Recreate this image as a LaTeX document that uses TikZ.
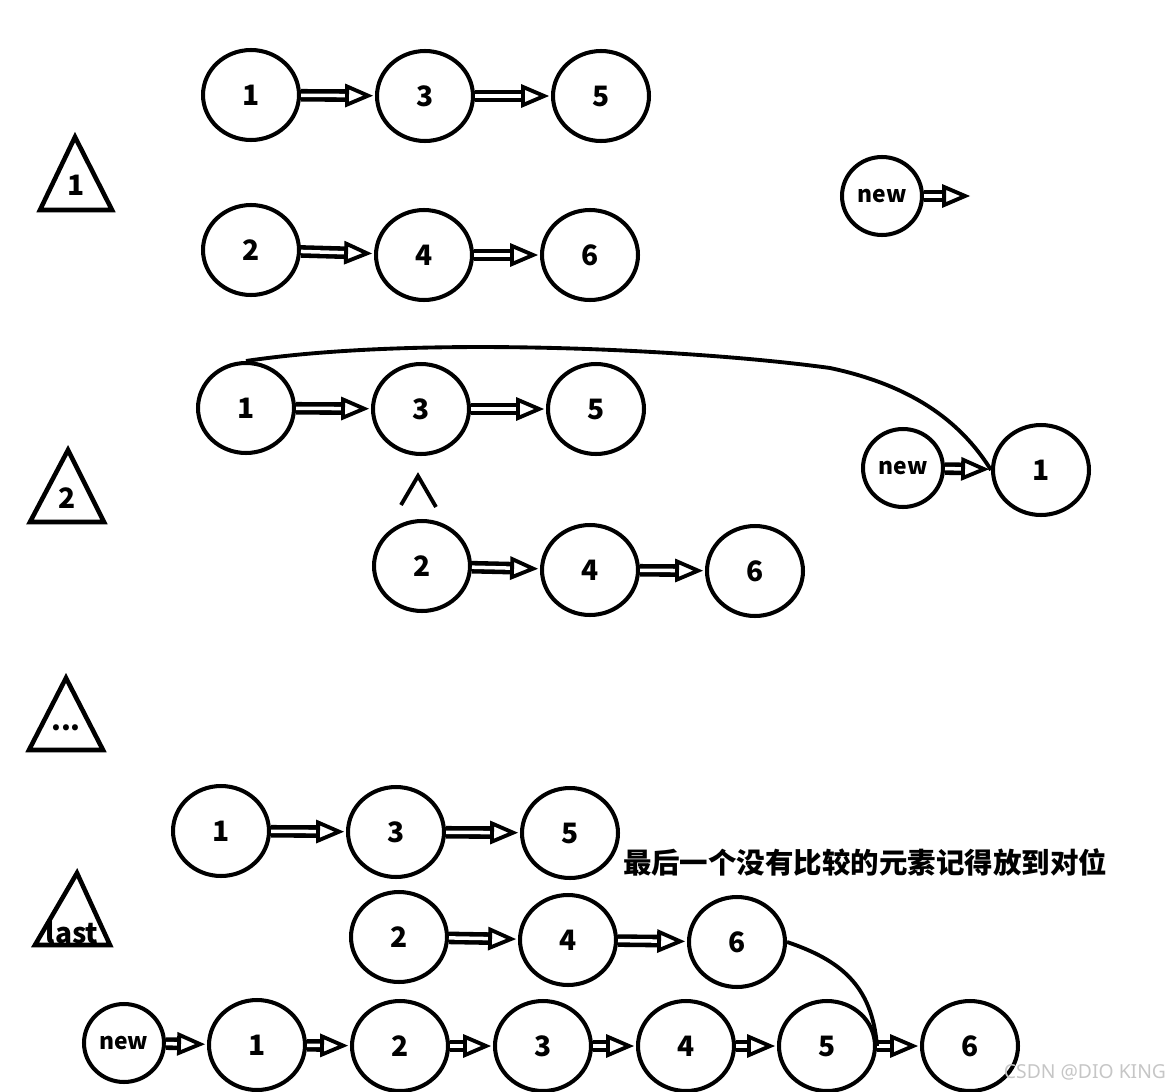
\documentclass[tikz,border=0pt]{standalone}
\usepackage{fontspec}
\setmainfont{Noto Sans CJK SC}
\newfontfamily\cjk{Noto Sans CJK SC}
\newfontfamily\wmfont{Noto Sans}
\usetikzlibrary{shapes.geometric,arrows.meta}

\begin{document}
\begin{tikzpicture}[x=0.02cm, y=-0.02cm,
  num/.style={draw, ellipse, line width=2.3pt, minimum width=1.92cm, minimum height=1.8cm,
    inner sep=0pt, font=\fontsize{16}{18}\selectfont\bfseries},
  small/.style={num, minimum width=1.6cm, minimum height=1.56cm, font=\fontsize{13}{15}\selectfont\bfseries},
  link/.style={line width=2.6pt, double distance=2pt, shorten >=1pt,
    -{Triangle[open, length=16pt, width=13pt, line width=2.2pt]}},
  tri/.style={line width=2.6pt, line join=miter},
  steplabel/.style={font=\fontsize{16}{18}\selectfont\bfseries, inner sep=0pt}]
  \useasboundingbox (0,0) rectangle (1174,1092);

  % step 1: two lists
  \draw[tri] (75,137) -- (112,210) -- (40,210) -- cycle;
  \node[steplabel] (t1) at (76,185) {1};
  \node[num] (a1) at (251,95) {1};
  \node[num] (a3) at (425,96) {3};
  \node[num] (a5) at (601,96) {5};
  \draw[link] (a1) -- (a3);
  \draw[link] (a3) -- (a5);
  \node[num] (b2) at (251,250) {2};
  \node[num] (b4) at (424,255) {4};
  \node[num] (b6) at (590,255) {6};
  \draw[link] (b2) -- (b4);
  \draw[link] (b4) -- (b6);
  \node[small] (new1) at (882,196) {new};
  \coordinate (new1end) at (972,196);
  \draw[link] (new1) -- (new1end);

  % step 2: compare heads
  \draw[tri] (68,450) -- (104,522) -- (30,522) -- cycle;
  \node[steplabel] (t2) at (67,498) {2};
  \node[num] (c1) at (246,408) {1};
  \node[num] (c3) at (421,409) {3};
  \node[num] (c5) at (596,409) {5};
  \draw[link] (c1) -- (c3);
  \draw[link] (c3) -- (c5);
  \node[small] (new2) at (903,468) {new};
  \node[num] (r1) at (1041,470) {1};
  \draw[link] (new2) -- (r1);
  \draw[line width=2.2pt] (c1.north) .. controls (420,335) and (700,350) .. (830,368)
    .. controls (910,385) and (960,420) .. (r1.west);
  \draw[line width=2.2pt] (401,505) -- (418,476) -- (436,507);
  \node[num] (d2) at (422,566) {2};
  \node[num] (d4) at (590,570) {4};
  \node[num] (d6) at (755,571) {6};
  \draw[link] (d2) -- (d4);
  \draw[link] (d4) -- (d6);

  % more steps
  \draw[tri] (66,678) -- (103,750) -- (29,750) -- cycle;
  \node[steplabel] (t3) at (66,728) {...};

  % last step
  \draw[tri] (77,873) -- (110,945) -- (35,945) -- cycle;
  \node[steplabel] (t4) at (72,932) {last};
  \node[num] (e1) at (221,831) {1};
  \node[num] (e3) at (396,832) {3};
  \node[num] (e5) at (570,833) {5};
  \draw[link] (e1) -- (e3);
  \draw[link] (e3) -- (e5);
  \node[font=\cjk\fontsize{16.2}{18}\selectfont\bfseries] (note) at (865,862) {最后一个没有比较的元素记得放到对位};
  \node[num] (f2) at (399,937) {2};
  \node[num] (f4) at (568,940) {4};
  \node[num] (f6) at (737,942) {6};
  \draw[link] (f2) -- (f4);
  \draw[link] (f4) -- (f6);

  % merged list
  \node[small] (new3) at (124,1043) {new};
  \node[num] (g1) at (257,1045) {1};
  \node[num] (g2) at (400,1046) {2};
  \node[num] (g3) at (543,1046) {3};
  \node[num] (g4) at (686,1046) {4};
  \node[num] (g5) at (827,1046) {5};
  \node[num] (g6) at (970,1046) {6};
  \draw[link] (new3) -- (g1);
  \draw[link] (g1) -- (g2);
  \draw[link] (g2) -- (g3);
  \draw[link] (g3) -- (g4);
  \draw[link] (g4) -- (g5);
  \draw[link] (g5) -- (g6);
  \draw[line width=2.2pt] (f6.east) .. controls (840,960) and (872,985) .. (g5.east);

  \node[gray!45, font=\wmfont\fontsize{11}{13}\selectfont] (wm) at (1085,1072) {CSDN @DIO KING};
\end{tikzpicture}
\end{document}
